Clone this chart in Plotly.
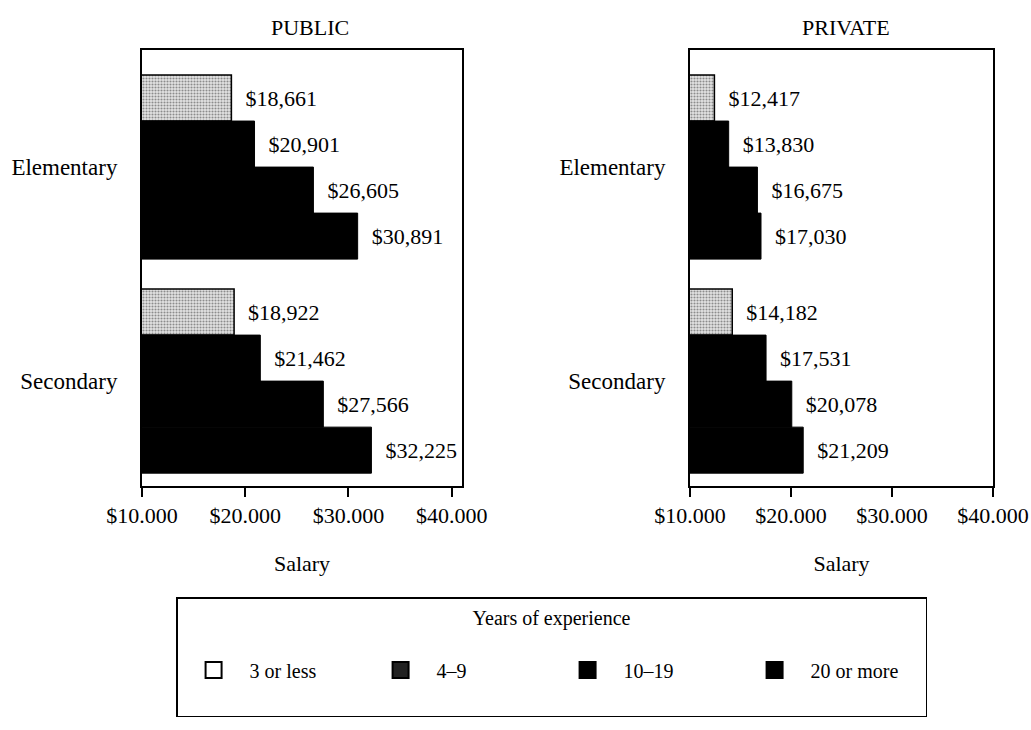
import plotly.graph_objects as go
from plotly.subplots import make_subplots

levels = ["Elementary", "Secondary"]
experience = ["3 or less", "4–9", "10–19", "20 or more"]

public_3_or_less = [18661, 18922]
public_4_9 = [20901, 21462]
public_10_19 = [26605, 27566]
public_20_plus = [30891, 32225]

private_3_or_less = [12417, 14182]
private_4_9 = [13830, 17531]
private_10_19 = [16675, 20078]
private_20_plus = [17030, 21209]

tick_vals = [10000, 20000, 30000, 40000]
tick_text = ["$10.000", "$20.000", "$30.000", "$40.000"]

FONT = "Liberation Serif, Times New Roman, serif"

# bar look per experience group (first one is the speckled grey)
bar_styles = [
    dict(color="white", line=dict(color="black", width=1.5),
         pattern=dict(shape=".", fgcolor="#333", bgcolor="#e4e4e4", size=3, solidity=0.4)),
    dict(color="black", line=dict(color="black", width=1)),
    dict(color="black", line=dict(color="black", width=1)),
    dict(color="black", line=dict(color="black", width=1)),
]
# legend key as printed under the chart
key_styles = [
    dict(symbol="square", size=18, color="white", line=dict(color="black", width=2)),
    dict(symbol="square", size=18, color="#222", line=dict(color="black", width=2)),
    dict(symbol="square", size=18, color="black", line=dict(color="black", width=2)),
    dict(symbol="square", size=18, color="black", line=dict(color="black", width=2)),
]

fig = make_subplots(rows=1, cols=2, subplot_titles=["PUBLIC", "PRIVATE"])

public = [public_3_or_less, public_4_9, public_10_19, public_20_plus]
private = [private_3_or_less, private_4_9, private_10_19, private_20_plus]

for col, series in [(1, public), (2, private)]:
    for name, vals, style in zip(experience, series, bar_styles):
        fig.add_trace(go.Bar(
            x=vals, y=levels, orientation="h", name=name,
            marker=style, showlegend=False,
            texttemplate="\u2002$%{x:,}", textposition="outside",
            textangle=0, cliponaxis=False,
            textfont=dict(size=22, color="black", family=FONT),
        ), row=1, col=col)

for name, style in zip(experience, key_styles):
    fig.add_trace(go.Scatter(x=[None], y=[None], mode="markers",
                             name=" <br>" + name + "<br> ",
                             marker=style, showlegend=True), row=1, col=1)

y_dom = [1 - 486 / 730, 1 - 50 / 730]
axis_common = dict(showline=True, mirror=True, linecolor="black", linewidth=2,
                   showgrid=False, zeroline=False, automargin=False)

fig.update_xaxes(tickvals=tick_vals, ticktext=tick_text, ticks="outside",
                 ticklen=9, tickwidth=2, tickcolor="black",
                 title=dict(text="Salary", standoff=28, font=dict(size=22)),
                 tickfont=dict(size=22), **axis_common)
fig.update_yaxes(type="category", categoryorder="array", categoryarray=levels,
                 range=[1.49, -0.547], autorange=False, ticks="",
                 ticklabelstandoff=18, tickfont=dict(size=23), domain=y_dom,
                 **axis_common)
fig.update_layout(
    xaxis=dict(domain=[142 / 1031, 462 / 1031], range=[10000, 41000]),
    xaxis2=dict(domain=[690 / 1031, 993 / 1031], range=[10000, 40000]),
)

for ann in fig.layout.annotations:
    ann.font = dict(size=22, family=FONT, color="black")
    ann.yshift = 8
    ann.y = y_dom[1]
fig.layout.annotations[0].x = (142 + 462) / 2 / 1031 + 0.008
fig.layout.annotations[1].x = (690 + 993) / 2 / 1031 + 0.004

fig.update_layout(
    width=1031, height=730,
    margin=dict(l=0, r=0, t=0, b=0, autoexpand=False),
    paper_bgcolor="white", plot_bgcolor="white",
    font=dict(family=FONT, size=22, color="black"),
    barmode="group", bargap=0.14, bargroupgap=0,
    legend=dict(
        orientation="h", x=0.535, xanchor="center", y=1 - 597 / 730, yanchor="top",
        bordercolor="black", borderwidth=1.5, bgcolor="white",
        title=dict(text="Years of experience", side="top center", font=dict(size=20)),
        font=dict(size=20), entrywidth=110, itemwidth=62,
    ),
)

fig.write_html("out.html", config={"displayModeBar": False},
               post_script="document.body.style.margin='0';")
